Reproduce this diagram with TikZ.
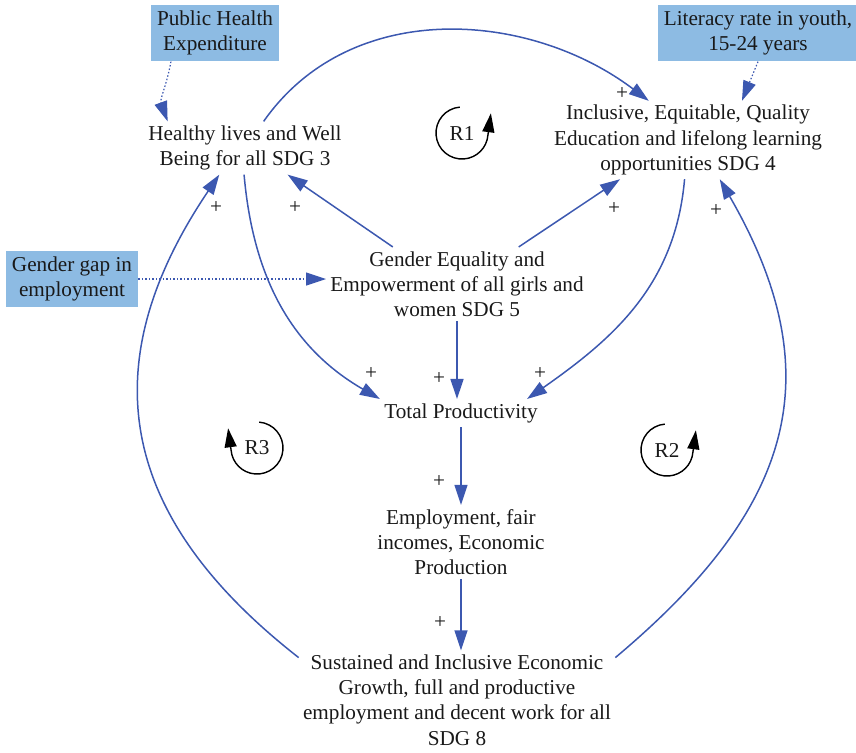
\documentclass[tikz,border=0pt]{standalone}
\usepackage{fontspec}
\setmainfont{Liberation Serif}
\usetikzlibrary{arrows.meta, calc}
\definecolor{linkBlue}{RGB}{60,88,176}
\definecolor{boxBlue}{RGB}{141,187,227}
\definecolor{ink}{RGB}{25,25,25}

\begin{document}
\begin{tikzpicture}[x=0.5pt, y=0.5pt,
  var/.style={align=center, font=\fontsize{10.6}{12.6}\selectfont, text=ink, inner sep=2pt},
  ext/.style={var, fill=boxBlue, inner xsep=3pt, inner ysep=3pt},
  pol/.style={font=\fontsize{10.6}{12.6}\selectfont, text=ink, inner sep=0pt},
  link/.style={-{Triangle[length=10pt, width=6.5pt]}, draw=linkBlue, line width=0.75pt},
  dotlink/.style={link, densely dotted, line width=0.6pt},
  loopArr/.style={-{Triangle[length=9.5pt, width=6pt]}, draw=black, line width=0.7pt}
]
\useasboundingbox (0,0) rectangle (856,-752);

\node[ext] (phe) at (215,-33) {Public Health\\Expenditure};
\node[ext] (lit) at (758,-33) {Literacy rate in youth,\\15-24 years};
\node[ext] (gap) at (72,-279) {Gender gap in\\employment};
\node[var] (hl) at (245,-148) {Healthy lives and Well\\Being for all SDG 3};
\node[var] (edu) at (688,-140) {Inclusive, Equitable, Quality\\Education and lifelong learning\\opportunities SDG 4};
\node[var] (ge) at (457,-284) {Gender Equality and\\Empowerment of all girls and\\women SDG 5};
\node[var] (tp) at (461,-413) {Total Productivity};
\node[var] (emp) at (461,-542) {Employment, fair\\incomes, Economic\\Production};
\node[var] (sus) at (457,-700) {Sustained and Inclusive Economic\\Growth, full and productive\\employment and decent work for all\\SDG 8};

\foreach \nm/\px/\py/\sa/\ea/\dx in {R1/462/133/95/355/3, R2/667/450/95/355/3, R3/257/448/85/-175/-3}{
  \node[var] (\nm) at (\px,-\py) {\nm};
  \draw[loopArr] ([shift={(\sa:26)}]\nm.center) arc[start angle=\sa, end angle=\ea, radius=26] -- ++(\dx,22);
}

\draw[dotlink] (phe.213) to[out=-100, in=110] (hl.161);
\draw[dotlink] (lit.south) -- (edu.36);
\draw[dotlink] (gap.east) -- (gap.east -| ge.west);

\draw[link] (hl.55) to[out=55, in=143] (edu.135);
\draw[link] (ge.150) -- (hl.-32);
\draw[link] (ge.31) -- (edu.210);
\draw[link] (hl.-92) to[out=-85, in=150] (tp.north west);
\draw[link] (ge.south) -- (ge.south |- tp.north);
\draw[link] (edu.-95) to[out=-95, in=35] (tp.12);
\draw[link] (tp.south) -- (emp.north);
\draw[link] (emp.south) -- (emp.south |- sus.north);
\draw[link] (sus.165) to[out=142, in=-124, looseness=1.2] (hl.226);
\draw[link] (sus.15) to[out=40, in=-60, looseness=1.2] (edu.-51);

\foreach \px/\py [count=\k] in {622/93, 216/207, 295/207, 614/208, 716/210, 371/373, 439/378, 540/373, 439/481, 440/622}
  \node[pol] (plus\k) at (\px,-\py) {+};
\end{tikzpicture}
\end{document}
